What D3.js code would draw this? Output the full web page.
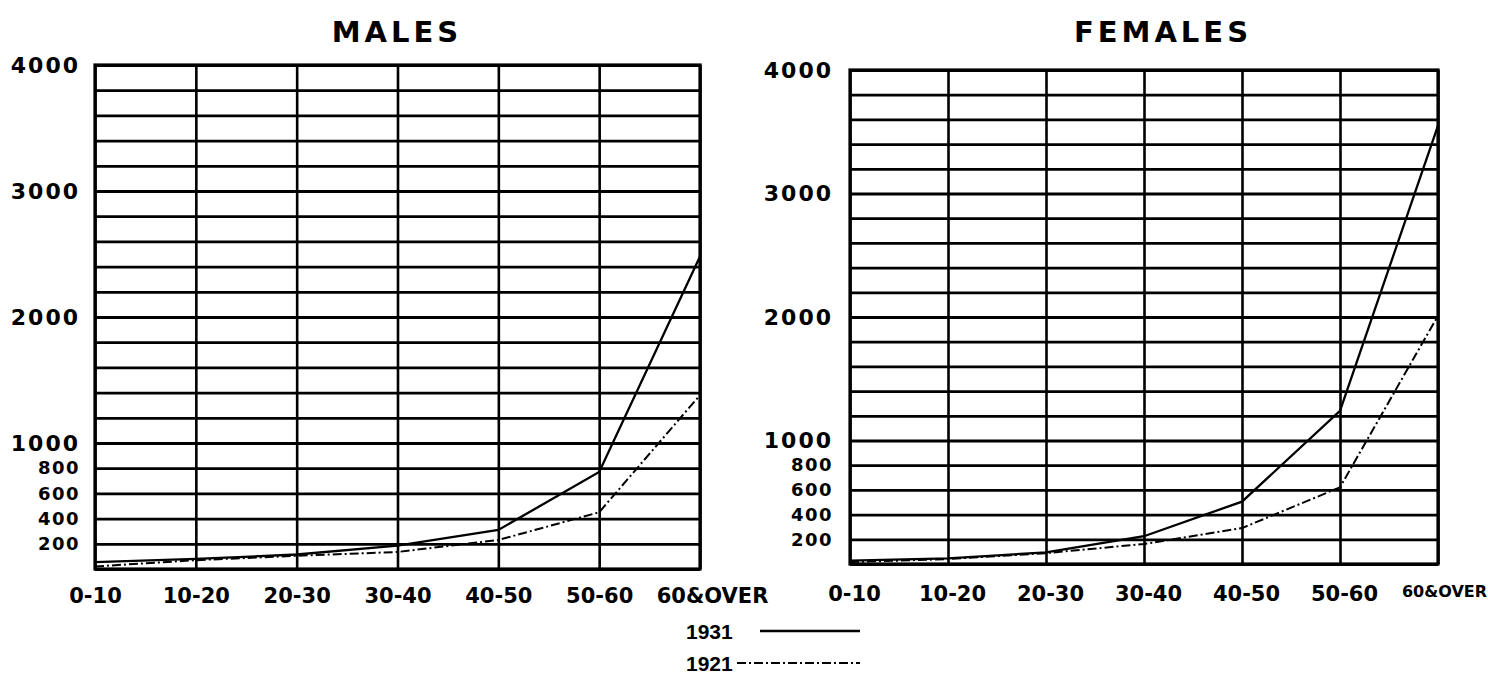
<!DOCTYPE html>
<html>
<head>
<meta charset="utf-8">
<script src="https://d3js.org/d3.v7.min.js"></script>
<style>
	body { margin: 0; background: #fff; }
	svg { display: block; }
	text { font-family: "DejaVu Sans", sans-serif; font-weight: bold; fill: #000; }
</style>
</head>
<body>
<svg id="chart" width="1488" height="677"></svg>
<script>
// age groups along the bottom, same for both panels
var ageGroups = ["0-10", "10-20", "20-30", "30-40", "40-50", "50-60", "60&OVER"];

// deaths per age group
var males1931 = [55, 80, 115, 185, 310, 770, 2480];
var males1921 = [20, 70, 105, 135, 230, 450, 1380];
var females1931 = [27, 46, 94, 225, 505, 1240, 3550];
var females1921 = [15, 40, 88, 162, 291, 621, 2010];

// y axis
var yLabels = [200, 400, 600, 800, 1000, 2000, 3000, 4000];
var gridLines = d3.range(0, 4001, 200);
var yMax = 4000;

// legend
var legendYears = ["1931", "1921"];

var svg = d3.select("#chart");

var dashed = "9,3,2,3";

function drawPanel(p) {
	var x = d3.scalePoint().domain(ageGroups).range([p.left, p.right]);
	var y = d3.scaleLinear().domain([0, yMax]).range([p.bottom, p.top]);

	var g = svg.append("g").attr("id", p.id);

	// horizontal rules every 200
	g.append("g")
		.attr("transform", "translate(" + p.left + ",0)")
		.call(d3.axisLeft(y).tickValues(gridLines).tickSize(-(p.right - p.left)).tickFormat(""))
		.call(function (a) {
			a.select(".domain").remove();
			a.selectAll("line").attr("stroke", "#000").attr("stroke-width", 2.8);
		});

	// vertical rules, one per age group
	g.append("g")
		.attr("transform", "translate(0," + p.bottom + ")")
		.call(d3.axisBottom(x).tickSize(-(p.bottom - p.top)).tickFormat(""))
		.call(function (a) {
			a.select(".domain").remove();
			a.selectAll("line").attr("stroke", "#000").attr("stroke-width", 2.6);
		});

	// frame
	g.append("rect")
		.attr("x", p.left).attr("y", p.top)
		.attr("width", p.right - p.left).attr("height", p.bottom - p.top)
		.attr("fill", "none").attr("stroke", "#000").attr("stroke-width", 3.2);

	// y labels, thousands are printed a bit bigger
	g.append("g")
		.attr("transform", "translate(" + p.left + ",0)")
		.call(d3.axisLeft(y).tickValues(yLabels).tickSize(0).tickPadding(p.yPad).tickFormat(d3.format("d")))
		.call(function (a) {
			a.select(".domain").remove();
			a.selectAll("text")
				.style("font-family", "'DejaVu Sans', sans-serif")
				.style("font-weight", "bold")
				.attr("font-size", function (d) { return d >= 1000 ? 22 : 18; })
				.attr("letter-spacing", function (d) { return d >= 1000 ? 2 : 1.5; });
		});

	// age group labels
	g.append("g")
		.attr("transform", "translate(0," + p.bottom + ")")
		.call(d3.axisBottom(x).tickSize(0).tickPadding(p.xPad))
		.call(function (a) {
			a.select(".domain").remove();
			a.selectAll("text")
				.style("font-family", "'DejaVu Sans', sans-serif")
				.style("font-weight", "bold")
				.attr("font-size", function (d, i) { return i == ageGroups.length - 1 ? p.lastSize : 21; })
				.attr("dx", function (d, i) { return i == ageGroups.length - 1 ? p.lastShift : p.shift; });
		});

	// title
	g.append("text")
		.attr("x", p.titleX).attr("y", 42)
		.attr("text-anchor", "middle")
		.attr("font-size", 29)
		.attr("letter-spacing", 4)
		.text(p.title);

	var line = d3.line()
		.x(function (d, i) { return x(ageGroups[i]); })
		.y(function (d) { return y(d); });

	g.append("path")
		.datum(p.older)
		.attr("d", line)
		.attr("fill", "none").attr("stroke", "#000").attr("stroke-width", 2)
		.attr("stroke-dasharray", dashed);

	g.append("path")
		.datum(p.newer)
		.attr("d", line)
		.attr("fill", "none").attr("stroke", "#000").attr("stroke-width", 2.3);
}

drawPanel({
	id: "males", title: "MALES", titleX: 397,
	left: 95, right: 700, top: 65, bottom: 569,
	yPad: 15, xPad: 19, shift: 0, lastShift: 12, lastSize: 21,
	newer: males1931, older: males1921
});

// the last female label is cut by the page edge in the print, squeeze it in here
drawPanel({
	id: "females", title: "FEMALES", titleX: 1163,
	left: 850, right: 1438, top: 70, bottom: 564,
	yPad: 17, xPad: 22, shift: 4, lastShift: 6, lastSize: 16,
	newer: females1931, older: females1921
});

// legend under the middle
var legend = svg.append("g").attr("id", "legend");
legendYears.forEach(function (yr, i) {
	var ly = 631 + i * 32;
	legend.append("text")
		.attr("x", 686).attr("y", ly + 8)
		.attr("font-size", 21)
		.style("font-family", "'Liberation Sans', sans-serif")
		.text(yr);
	legend.append("line")
		.attr("x1", i == 0 ? 760 : 737).attr("x2", 860)
		.attr("y1", ly).attr("y2", ly)
		.attr("stroke", "#000").attr("stroke-width", i == 0 ? 2.5 : 2)
		.attr("stroke-dasharray", i == 0 ? null : dashed);
});
</script>
</body>
</html>
